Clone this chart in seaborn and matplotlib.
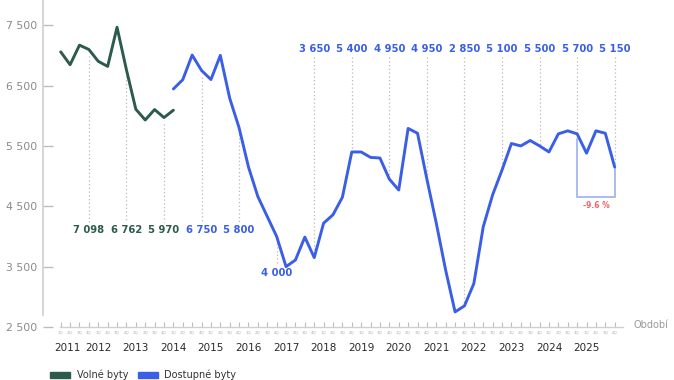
import matplotlib
matplotlib.use("Agg")
import matplotlib.pyplot as plt
import matplotlib.patches as mpatches
import seaborn as sns
import pandas as pd
import numpy as np

# ---- data ----
years = list(range(2011, 2026))
quarter_labels = ["1Q", "2Q", "3Q", "4Q"] * len(years)

volne_q = list(range(0, 13))
volne_vals = [7059, 6846, 7170, 7098, 6902, 6818, 7466, 6762, 6109, 5930, 6103, 5970, 6092]

dostupne_q = list(range(12, 60))
dostupne_vals = [6444, 6598, 7006, 6750, 6600, 7000, 6290, 5800, 5150, 4660, 4330, 4000,
                 3500, 3610, 3990, 3650, 4220, 4360, 4650, 5400, 5400, 5310, 5300, 4950,
                 4770, 5790, 5710, 4950, 4220, 3440, 2750, 2850, 3220, 4160, 4690, 5100,
                 5540, 5500, 5590, 5500, 5400, 5700, 5750, 5700, 5380, 5750, 5710, 5150]

ann_q = [3, 7, 11, 15, 19, 23, 27, 31, 35, 39, 43, 47, 51, 55, 59]
ann_text = ["7 098", "6 762", "5 970", "6 750", "5 800", "4 000", "3 650", "5 400",
            "4 950", "4 950", "2 850", "5 100", "5 500", "5 700", "5 150"]
ann_series = ["v", "v", "v", "d", "d", "d", "d", "d", "d", "d", "d", "d", "d", "d", "d"]
ann_pos = ["low", "low", "low", "low", "low", "lowest", "top", "top", "top", "top",
           "top", "top", "top", "top", "top"]

yticks = [2500, 3500, 4500, 5500, 6500, 7500]
ytick_labels = ["2 500", "3 500", "4 500", "5 500", "6 500", "7 500"]

change_text = "-9.6 %"

GREEN = "#2c5b4b"
BLUE = "#3a5fe6"
LIGHTBLUE = "#a9bcf3"
RED = "#e8676a"

sns.set_theme(style="white")
plt.rcParams["font.family"] = ["DejaVu Sans"]

fig = plt.figure(figsize=(6.74, 3.80), dpi=100)
ax = fig.add_axes([43 / 674, 53 / 380, 587 / 674, 327 / 380])

df_v = pd.DataFrame({"q": volne_q, "val": volne_vals})
df_d = pd.DataFrame({"q": dostupne_q, "val": dostupne_vals})
sns.lineplot(data=df_v, x="q", y="val", color=GREEN, lw=2.1, ax=ax, zorder=5)
sns.lineplot(data=df_d, x="q", y="val", color=BLUE, lw=2.1, ax=ax, zorder=5)

ax.set_xlim(-1.885, 60.63)
ax.set_ylim(2500, 7918)

# value lookup
lookup = {}
for q, v in zip(volne_q, volne_vals):
    lookup[("v", q)] = v
for q, v in zip(dostupne_q, dostupne_vals):
    lookup[("d", q)] = v

TOP_Y = 7106
LOW_Y = 4107
LOWEST_Y = 3400
for q, txt, s, pos in zip(ann_q, ann_text, ann_series, ann_pos):
    v = lookup[(s, q)]
    col = GREEN if s == "v" else BLUE
    if pos == "top":
        ax.plot([q, q], [6975, v], ls=(0, (1, 2)), color="#b8b8b8", lw=0.9, zorder=2)
        ty = TOP_Y
    elif pos == "low":
        ax.plot([q, q], [v - 110, 4240], ls=(0, (1, 2)), color="#b8b8b8", lw=0.9, zorder=2)
        ty = LOW_Y
    else:
        ax.plot([q, q], [v - 110, 3530], ls=(0, (1, 2)), color="#b8b8b8", lw=0.9, zorder=2)
        ty = LOWEST_Y
    ax.text(q, ty, txt, ha="center", va="center", fontsize=7.2, fontweight="bold", color=col)

# change bracket
bq0, bq1 = 55, 59
by = 4660
ax.plot([bq0, bq0], [5620, by], color=LIGHTBLUE, lw=1.4, zorder=3)
ax.plot([bq0, bq1], [by, by], color=LIGHTBLUE, lw=1.4, zorder=3)
ax.plot([bq1, bq1], [lookup[("d", bq1)], by], color=LIGHTBLUE, lw=1.4, zorder=3)
ax.text((bq0 + bq1) / 2, 4510, change_text, ha="center", va="center", fontsize=5.5,
        color=RED, fontweight="bold")

# axes styling
for sp in ["top", "right"]:
    ax.spines[sp].set_visible(False)
ax.spines["left"].set_color("#d0d0d0")
ax.spines["left"].set_linewidth(1.2)
ax.spines["left"].set_bounds(2700, 7918)
ax.spines["bottom"].set_color("#cfcfcf")
ax.spines["bottom"].set_linewidth(1.0)
ax.spines["bottom"].set_bounds(-0.1, 59.9)

ax.set_yticks(yticks)
ax.set_yticklabels(ytick_labels)
ax.tick_params(axis="y", direction="in", length=7.5, width=1.0, color="#bdbdbd",
               labelcolor="#8a8a8a", labelsize=7.8, pad=4, left=True)
ax.set_xticks(list(range(60)))
ax.set_xticklabels(quarter_labels)
ax.tick_params(axis="x", direction="in", length=3.6, width=0.8, color="#bdbdbd",
               labelcolor="#b0b0b0", labelsize=3.0, pad=2.2, bottom=True)
ax.set_xlabel("")
ax.set_ylabel("")
ax.grid(False)

xt = ax.get_xaxis_transform()
for i, yr in enumerate(years):
    xpos = 4 * i if i > 0 else 0.75
    ax.text(xpos, -0.064, str(yr), transform=xt, ha="center", va="center",
            fontsize=7.5, color="#2a2a2a")

ax.text(62.9, 2540, "Období", ha="center", va="center", fontsize=7, color="#999999",
        clip_on=False)

# legend at the bottom
fig.patches.append(mpatches.Rectangle((50 / 674, 1 - 378 / 380), 20 / 674, 6 / 380,
                                      transform=fig.transFigure, color=GREEN))
fig.patches.append(mpatches.Rectangle((138 / 674, 1 - 378 / 380), 20 / 674, 6 / 380,
                                      transform=fig.transFigure, color=BLUE))
fig.text(77 / 674, 1 - 375 / 380, "Volné byty", ha="left", va="center", fontsize=7.0,
         color="#333333")
fig.text(164 / 674, 1 - 375 / 380, "Dostupné byty", ha="left", va="center", fontsize=7.0,
         color="#333333")

fig.savefig("out.png", dpi=100)
